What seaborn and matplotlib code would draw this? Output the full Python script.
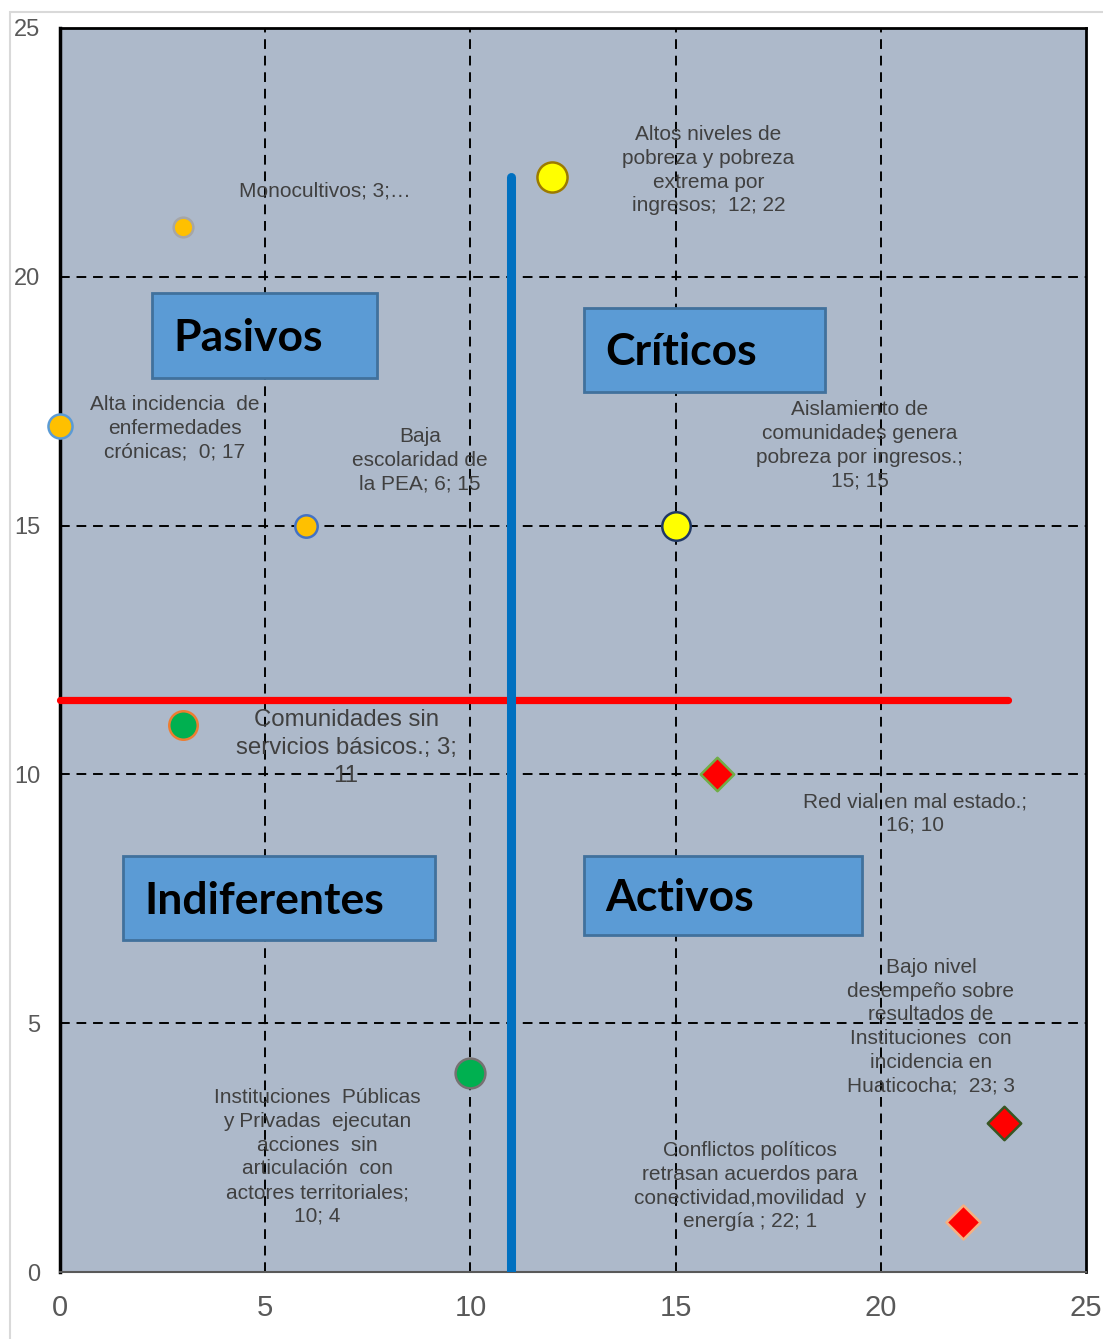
import matplotlib
matplotlib.use('Agg')
from matplotlib import pyplot as plt
from matplotlib.patches import Rectangle
import pandas as pd
import seaborn as sns


# problem positions: x = influence, y = dependence
names = [
    'Monocultivos; 3;…',
    'Altos niveles de\npobreza y pobreza\nextrema por\ningresos;  12; 22',
    'Alta incidencia  de\nenfermedades\ncrónicas;  0; 17',
    'Baja\nescolaridad de\nla PEA; 6; 15',
    'Aislamiento de\ncomunidades genera\npobreza por ingresos.;\n15; 15',
    'Comunidades sin\nservicios básicos.; 3;\n11',
    'Red vial en mal estado.;\n16; 10',
    'Bajo nivel\ndesempeño sobre\nresultados de\nInstituciones  con\nincidencia en\nHuaticocha;  23; 3',
    'Conflictos políticos\nretrasan acuerdos para\nconectividad,movilidad  y\nenergía ; 22; 1',
    'Instituciones  Públicas\ny Privadas  ejecutan\nacciones  sin\narticulación  con\nactores territoriales;\n10; 4',
]
x_vals = [3, 12, 0, 6, 15, 3, 16, 23, 22, 10]
y_vals = [21, 22, 17, 15, 15, 11, 10, 3, 1, 4]
fills = ['#FFC000', '#FFFF00', '#FFC000', '#FFC000', '#FFFF00',
         '#00B050', '#FF0000', '#FF0000', '#FF0000', '#00B050']
edges = ['#A6A6A6', '#9C7A00', '#5B9BD5', '#4472C4', '#203864',
         '#ED7D31', '#70AD47', '#375623', '#F4B183', '#767171']
markers = ['o', 'o', 'o', 'o', 'o', 'o', 'D', 'D', 'D', 'o']
sizes = [200, 470, 300, 260, 420, 420, 290, 290, 300, 460]

# label offsets from each point, in pixels
label_dx = [142, 156, 115, 114, 184, 163, 198, -73, -213, -153]
label_dy = [36, 7, -2, 65, 80, -23, -39, 96, 36, -84]
label_size = [15, 15, 15, 15, 15, 17.3, 15, 15, 15, 15]
label_spacing = [1.32, 1.32, 1.32, 1.32, 1.32, 1.36, 1.32, 1.32, 1.32, 1.32]

quadrants = ['Pasivos', 'Críticos', 'Indiferentes', 'Activos']
# boxes in axes fractions: left, bottom, width, height
quad_boxes = [(0.0897, 0.7187, 0.2193, 0.0683),
              (0.5107, 0.7074, 0.2349, 0.0675),
              (0.0614, 0.2669, 0.3041, 0.0675),
              (0.5107, 0.2709, 0.2710, 0.0635)]

cut_x = 11
cut_y = 11.5

df = pd.DataFrame({'x': x_vals, 'y': y_vals})

sns.set_style('white')
plt.rcParams['font.family'] = ['Liberation Sans', 'DejaVu Sans']

fig = plt.figure(figsize=(11.03, 13.39), dpi=100)
fig.patches.append(Rectangle((10 / 1103, -0.01), 1.1, 1 - 12 / 1339 + 0.01,
                             transform=fig.transFigure, fill=False,
                             edgecolor='#D9D9D9', linewidth=1.5))
ax = fig.add_axes([0.0544, 0.05, 0.9302, 0.9291])
ax.set_facecolor('#ADB9CA')

ax.set_xlim(0, 25)
ax.set_ylim(0, 25)
ticks = [0, 5, 10, 15, 20, 25]
ax.set_xticks(ticks)
ax.set_yticks(ticks)
ax.tick_params(axis='x', length=0, pad=16, labelsize=21, labelcolor='#595959')
ax.tick_params(axis='y', length=0, pad=14, labelsize=17, labelcolor='#595959')
for t in ticks[1:-1]:
    ax.axvline(t, color='black', lw=1.4, ls=(0, (5, 3.5)), zorder=1)
    ax.axhline(t, color='black', lw=1.4, ls=(0, (5, 3.5)), zorder=1)

for side in ['left', 'top', 'right']:
    ax.spines[side].set_color('black')
    ax.spines[side].set_linewidth(2)
ax.spines['left'].set_linewidth(2.5)
ax.spines['bottom'].set_color('#595959')
ax.spines['bottom'].set_linewidth(1.5)

# quadrant dividers
ax.plot([0, 23.1], [cut_y, cut_y], color='#FF0000', lw=5.2,
        solid_capstyle='round', zorder=3, clip_on=False)
ax.plot([cut_x, cut_x], [0, 22], color='#0070C0', lw=6.5,
        solid_capstyle='round', zorder=4)

for i in range(len(df)):
    sns.scatterplot(data=df.iloc[[i]], x='x', y='y', ax=ax,
                    marker=markers[i], s=sizes[i], color=fills[i],
                    edgecolor=edges[i], linewidth=1.8, zorder=5,
                    clip_on=False, legend=False)
    ax.annotate(names[i], xy=(x_vals[i], y_vals[i]),
                xytext=(label_dx[i], label_dy[i]), textcoords='offset pixels',
                ha='center', va='center', multialignment='center',
                fontsize=label_size[i], color='#404040',
                linespacing=label_spacing[i], zorder=6)

for name, (bx, by, bw, bh) in zip(quadrants, quad_boxes):
    ax.add_patch(Rectangle((bx, by), bw, bh, transform=ax.transAxes,
                           facecolor='#5B9BD5', edgecolor='#41719C',
                           linewidth=2, zorder=7))
    ax.text(bx + 0.021, by + bh / 2 - 0.002, name, transform=ax.transAxes,
            ha='left', va='center', fontsize=32, fontweight='bold',
            family=['Lato', 'DejaVu Sans'], color='black', zorder=8)

ax.set_xlabel('')
ax.set_ylabel('')

fig.savefig('out.png', dpi=100)
